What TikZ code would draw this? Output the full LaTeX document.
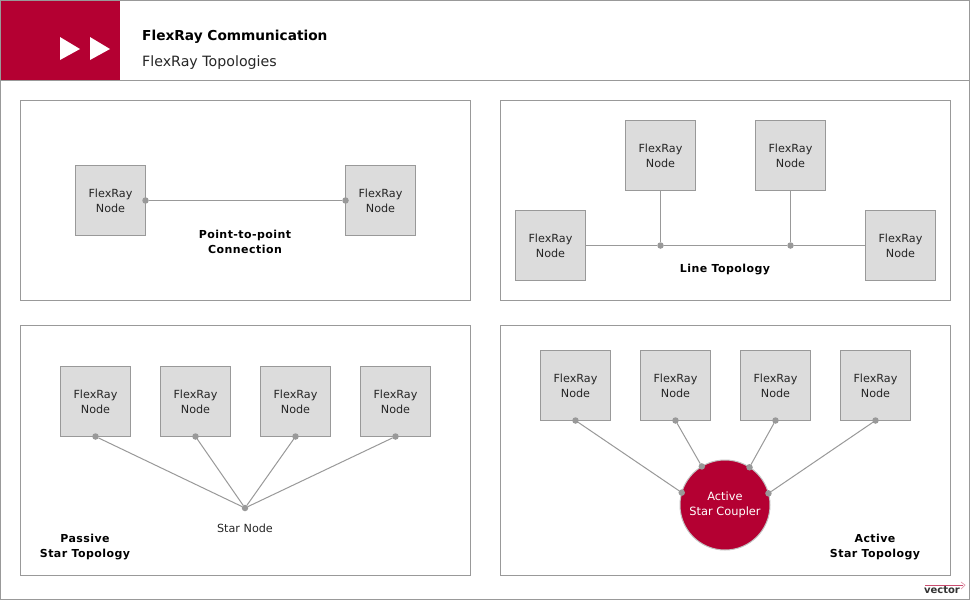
\documentclass[tikz,border=0pt]{standalone}
\usepackage{fontspec}
\setmainfont{DejaVu Sans}
\usetikzlibrary{arrows.meta,positioning,calc}
\definecolor{vecred}{HTML}{B40032}
\definecolor{framegray}{HTML}{999999}
\definecolor{nodegray}{HTML}{DCDCDC}

\begin{document}
\begin{tikzpicture}[
  x=1pt, y=-1pt,
  panel/.style={rectangle, draw=framegray, line width=1pt, anchor=north west,
                minimum width=450pt, inner sep=0pt, outer sep=0pt},
  flexnode/.style={rectangle, draw=framegray, fill=nodegray, line width=1pt,
                   minimum size=70pt, inner sep=0pt, outer sep=0pt, align=center,
                   font=\fontsize{11.2}{15}\selectfont, text=black!85},
  coupler/.style={circle, draw=framegray!60, fill=vecred, line width=1pt,
                  minimum size=90pt, inner sep=0pt, outer sep=0pt, align=center,
                  font=\fontsize{11.4}{15}\selectfont, text=white},
  dot/.style={circle, fill=framegray, minimum size=6.5pt, inner sep=0pt, outer sep=0pt},
  wire/.style={draw=framegray, line width=1pt},
  caption/.style={align=center, font=\fontsize{11}{15}\selectfont\bfseries\addfontfeatures{LetterSpace=4}, text=black},
  play/.style={fill=white, draw=none}
]
  \useasboundingbox (0,0) rectangle (970,600);
  \fill[white] (0,0) rectangle (970,600);

  % header
  \fill[vecred] (0,0) rectangle (120,80);
  \fill[play] (60,37) -- (80,49) -- (60,60) -- cycle;
  \fill[play] (90,37) -- (110,49) -- (90,60) -- cycle;
  \draw[wire] (0.5,0.5) rectangle (969.5,599.5);
  \draw[wire] (0,80.5) -- (970,80.5);
  \node[anchor=west, inner sep=0pt, font=\fontsize{13.7}{16}\selectfont\bfseries] (title) at (142,37) {FlexRay Communication};
  \node[anchor=west, inner sep=0pt, font=\fontsize{14.2}{16}\selectfont, text=black!85] (subtitle) at (142,63) {FlexRay Topologies};

  % panels
  \node[panel, minimum height=200pt] (ptp) at (20.5,100.5) {};
  \node[panel, minimum height=200pt, right=30pt of ptp] (line) {};
  \node[panel, minimum height=250pt] (passive) at (20.5,325.5) {};
  \node[panel, minimum height=250pt, right=30pt of passive] (active) {};

  % point-to-point
  \node[flexnode] (pa) at (110.5,200.5) {FlexRay\\Node};
  \node[flexnode, right=200pt of pa] (pb) {FlexRay\\Node};
  \node[dot] (pad) at (pa.east) {};
  \node[dot] (pbd) at (pb.west) {};
  \draw[wire] (pad) -- (pbd);
  \node[caption] (ptpcap) at (245,242) {Point-to-point\\Connection};

  % line topology
  \node[flexnode] (la) at (550.5,245.5) {FlexRay\\Node};
  \node[flexnode] (lb) at (660.5,155.5) {FlexRay\\Node};
  \node[flexnode, right=60pt of lb] (lc) {FlexRay\\Node};
  \node[flexnode] (ld) at (900.5,245.5) {FlexRay\\Node};
  \node[dot] (lbd) at (lb |- la) {};
  \node[dot] (lcd) at (lc |- la) {};
  \draw[wire] (la) -- (lbd) -- (lcd) -- (ld);
  \draw[wire] (lb) -- (lbd);
  \draw[wire] (lc) -- (lcd);
  \node[caption] (linecap) at (725,270) {Line Topology};

  % passive star
  \node[flexnode] (sa) at (95.5,401.5) {FlexRay\\Node};
  \node[flexnode, right=30pt of sa] (sb) {FlexRay\\Node};
  \node[flexnode, right=30pt of sb] (sc) {FlexRay\\Node};
  \node[flexnode, right=30pt of sc] (sd) {FlexRay\\Node};
  \node[dot] (star) at (245,508) {};
  \foreach \n in {sa,sb,sc,sd}{
    \node[dot] (\n d) at (\n.south) {};
    \draw[wire] (\n d) -- (star);
  }
  \node[inner sep=0pt, font=\fontsize{11.2}{15}\selectfont, text=black!85] (starlabel) at (245,528) {Star Node};
  \node[caption] (passivecap) at (85,547) {Passive\\Star Topology};

  % active star
  \node[flexnode] (aa) at (575.5,385.5) {FlexRay\\Node};
  \node[flexnode, right=30pt of aa] (ab) {FlexRay\\Node};
  \node[flexnode, right=30pt of ab] (ac) {FlexRay\\Node};
  \node[flexnode, right=30pt of ac] (ad) {FlexRay\\Node};
  \node[coupler] (hub) at (725,505) {Active\\Star Coupler};
  \foreach \n/\a in {aa/164,ab/121,ac/57,ad/15}{
    \node[dot] (\n d) at (\n.south) {};
    \node[dot] (\n h) at (hub.\a) {};
    \draw[wire] (\n d) -- (\n h);
  }
  \node[caption] (activecap) at (875,547) {Active\\Star Topology};

  % logo
  \coordinate (logol) at (925,585);
  \coordinate (logor) at (963,585);
  \draw[vecred!70, line width=1pt] (logol) -- (logor);
  \draw[vecred!40, line width=0.7pt] (961,582) -- (965,585) -- (961,589);
  \node[inner sep=0pt, font=\fontsize{10}{12}\selectfont\bfseries, text=black!80] (logo) at (942,590.5) {vector};
\end{tikzpicture}
\end{document}
